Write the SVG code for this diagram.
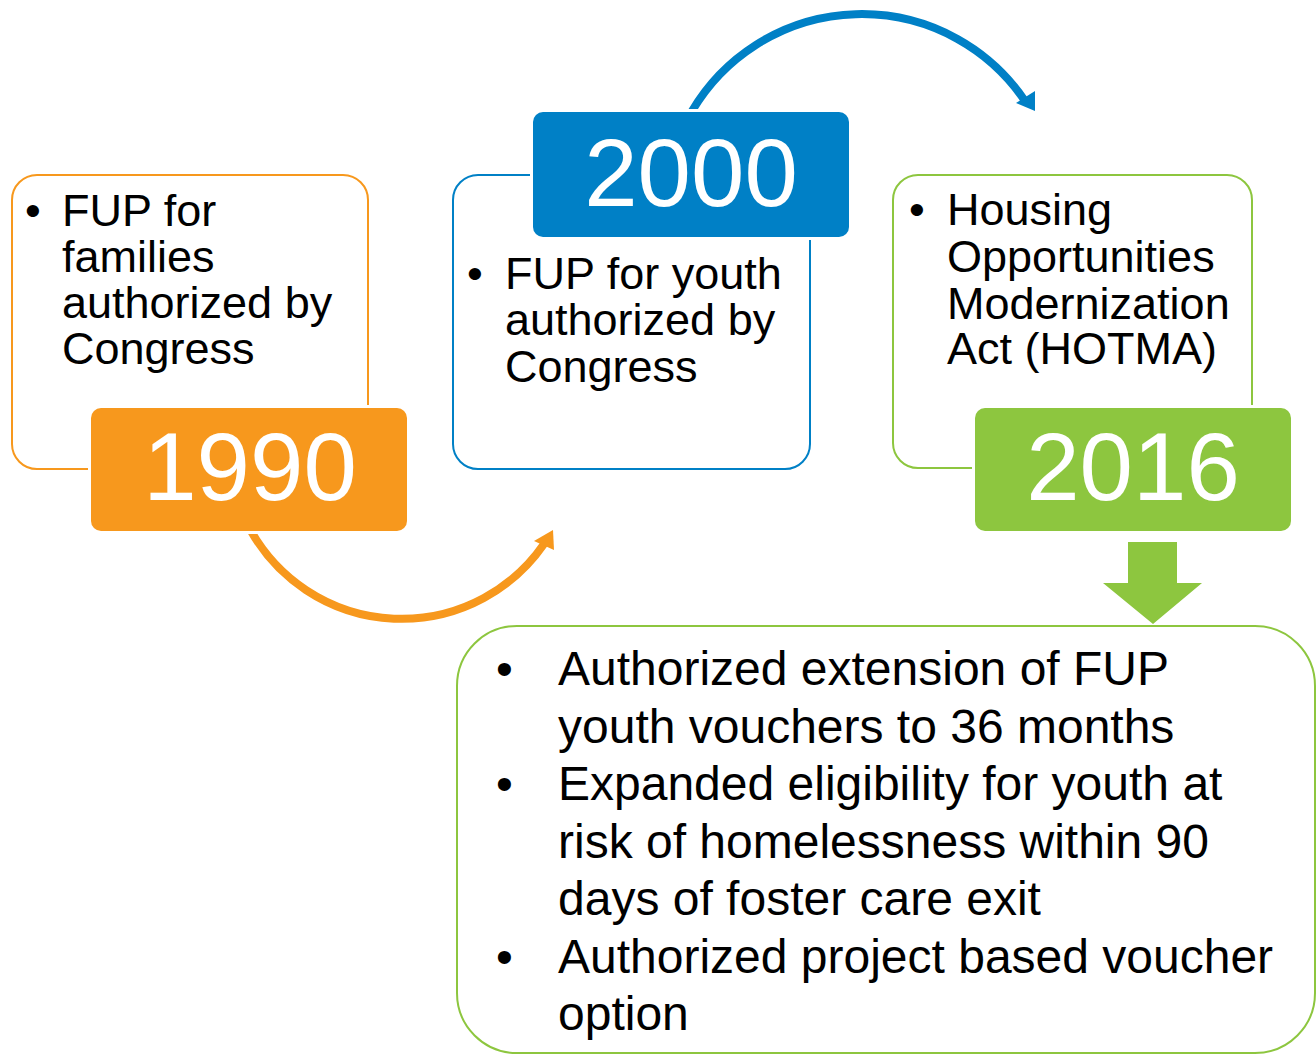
<svg xmlns="http://www.w3.org/2000/svg" width="1316" height="1055" viewBox="0 0 1316 1055">
<style>
text{font-family:"Liberation Sans",Arial,sans-serif;fill:#000}
.t{font-size:45px}
.b{font-size:48px}
.yr{font-size:96px;fill:#fff;text-anchor:middle}
.outline{fill:#fff;stroke-width:2}
.year{stroke:#fff;stroke-width:6;paint-order:stroke}
</style>
<rect width="1316" height="1055" fill="#fff"/>
<g id="connectors">
<path d="M 251 531 A 173 173 0 0 0 544 544" fill="none" stroke="#F7981D" stroke-width="8"/>
<polygon points="553,530 534,541 554,550" fill="#F7981D"/>
<path d="M 692 111 A 197 197 0 0 1 1025 101" fill="none" stroke="#0080C6" stroke-width="8"/>
<polygon points="1035,91 1016,103 1035,111" fill="#0080C6"/>
<polygon points="1128,542 1177,542 1177,583 1202,583 1153,624 1103,583 1128,583" fill="#8DC63F"/>
</g>
<g id="node-1990">
<rect class="outline" x="12" y="175" width="356" height="294" rx="25" stroke="#F7981D"/>
<text class="t" x="25" y="226">•</text>
<text class="t" x="62" y="226">FUP for</text>
<text class="t" x="62" y="272">families</text>
<text class="t" x="62" y="318">authorized by</text>
<text class="t" x="62" y="364">Congress</text>
<rect class="year" x="91" y="408" width="316" height="123" rx="10" fill="#F7981D"/>
<text class="yr" x="250" y="500">1990</text>
</g>
<g id="node-2000">
<rect class="outline" x="453" y="175" width="357" height="294" rx="25" stroke="#0080C6"/>
<text class="t" x="467" y="289">•</text>
<text class="t" x="505" y="289">FUP for youth</text>
<text class="t" x="505" y="335">authorized by</text>
<text class="t" x="505" y="382">Congress</text>
<rect class="year" x="533" y="112" width="316" height="125" rx="10" fill="#0080C6"/>
<text class="yr" x="691" y="206">2000</text>
</g>
<g id="node-2016">
<rect class="outline" x="893" y="175" width="359" height="293" rx="25" stroke="#8DC63F"/>
<text class="t" x="909" y="225">•</text>
<text class="t" x="947" y="225">Housing</text>
<text class="t" x="947" y="272">Opportunities</text>
<text class="t" x="947" y="319">Modernization</text>
<text class="t" x="947" y="364">Act (HOTMA)</text>
<rect class="year" x="975" y="408" width="316" height="123" rx="10" fill="#8DC63F"/>
<text class="yr" x="1133" y="500">2016</text>
</g>
<g id="node-details">
<rect class="outline" x="457" y="626" width="858" height="427" rx="60" stroke="#8DC63F" stroke-width="2.5"/>
<text class="b" x="496" y="685">•</text>
<text class="b" x="558" y="685">Authorized extension of FUP</text>
<text class="b" x="558" y="743">youth vouchers to 36 months</text>
<text class="b" x="496" y="800">•</text>
<text class="b" x="558" y="800">Expanded eligibility for youth at</text>
<text class="b" x="558" y="858">risk of homelessness within 90</text>
<text class="b" x="558" y="915">days of foster care exit</text>
<text class="b" x="496" y="973">•</text>
<text class="b" x="558" y="973">Authorized project based voucher</text>
<text class="b" x="558" y="1030">option</text>
</g>
</svg>
